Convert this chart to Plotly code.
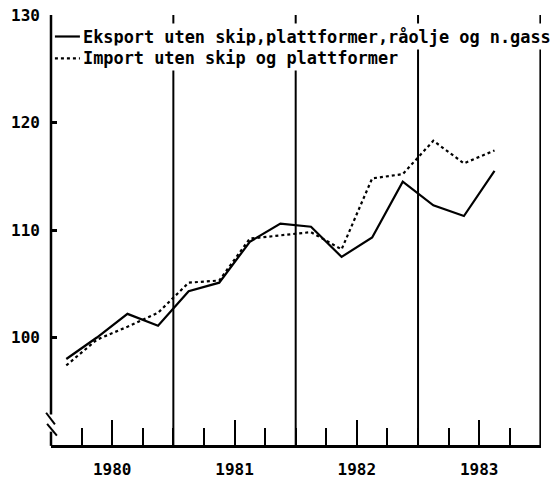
import plotly.graph_objects as go

# ---- data ----
years = [1980]*4 + [1981]*4 + [1982]*4 + [1983]*3
quarters = [1, 2, 3, 4]*3 + [1, 2, 3]
eksport = [98.0, 100.0, 102.2, 101.1, 104.3, 105.1, 108.9, 110.6,
           110.3, 107.5, 109.3, 114.5, 112.3, 111.3, 115.5]
import_ = [97.4, 99.8, 101.0, 102.3, 105.1, 105.3, 109.2, 109.5,
           109.8, 108.2, 114.8, 115.2, 118.3, 116.2, 117.4]
series_names = ["Eksport uten skip,plattformer,råolje og n.gass",
                "Import uten skip og plattformer"]
year_labels = ["1980", "1981", "1982", "1983"]
y_ticks = [100, 110, 120, 130]

x = [y + (q - 0.5) / 4 for y, q in zip(years, quarters)]

FONT = "DejaVu Sans Mono"
fig = go.Figure()
fig.add_trace(go.Scatter(x=x, y=eksport, mode="lines", name=series_names[0],
                         line=dict(color="black", width=2.2), showlegend=False))
fig.add_trace(go.Scatter(x=x, y=import_, mode="lines", name=series_names[1],
                         line=dict(color="black", width=2.2, dash="dot"), showlegend=False))

# year boundary lines
for yb in [1981, 1982, 1983, 1984]:
    fig.add_shape(type="line", xref="x", yref="y", x0=yb, x1=yb, y0=90, y1=130.2,
                  line=dict(color="black", width=2), layer="below")

# y axis line with break
fig.add_shape(type="line", xref="paper", yref="paper", x0=0, x1=0, y0=0.071, y1=1.0,
              line=dict(color="black", width=2.5))
fig.add_shape(type="line", xref="paper", yref="paper", x0=0, x1=0, y0=-0.002, y1=0.031,
              line=dict(color="black", width=2.5))
# break marks
fig.add_shape(type="line", xref="paper", yref="paper", x0=-0.010, x1=0.008, y0=0.075, y1=0.048,
              line=dict(color="black", width=2))
fig.add_shape(type="line", xref="paper", yref="paper", x0=-0.008, x1=0.012, y0=0.049, y1=0.022,
              line=dict(color="black", width=2))

# legend (annotations with white background)
leg_y = [0.95, 0.899]
dashes = ["solid", "dot"]
for name, yy, d in zip(series_names, leg_y, dashes):
    fig.add_shape(type="line", xref="paper", yref="paper", x0=0.008, x1=0.059, y0=yy, y1=yy,
                  line=dict(color="black", width=2.2, dash=d))
    fig.add_annotation(text=name, xref="paper", yref="paper", x=0.059, y=yy,
                       xanchor="left", yanchor="middle", showarrow=False,
                       bgcolor="white", borderpad=2,
                       font=dict(family=FONT, size=16.9, color="black", weight="bold"))

fig.update_layout(
    width=551, height=480,
    margin=dict(l=51, r=10, t=15, b=35, autoexpand=False),
    paper_bgcolor="white", plot_bgcolor="white",
    font=dict(family=FONT, size=16, color="black", weight="bold"),
    xaxis=dict(range=[1980, 1984.005], showgrid=False, zeroline=False, automargin=False,
               showline=True, linecolor="black", linewidth=2.5, ticklabeloverflow="allow",
               tickmode="array", tickvals=[1980.5, 1981.5, 1982.5, 1983.5],
               ticktext=year_labels, ticks="inside", ticklen=25, tickwidth=2,
               tickcolor="black", ticklabelstandoff=8,
               minor=dict(ticks="inside", ticklen=17, tickwidth=2, tickcolor="black",
                          tickmode="linear", tick0=1980, dtick=0.25, showgrid=False)),
    yaxis=dict(range=[90, 130], showgrid=False, zeroline=False, showline=False, automargin=False,
               tickmode="array", tickvals=y_ticks, ticks="inside", ticklen=6,
               ticklabeloverflow="allow",
               tickwidth=2.5, tickcolor="black", ticklabelstandoff=10),
)

# remove the default 8px page margin so the figure fills the window exactly
fig.write_html("out.html", config={"displayModeBar": False},
               post_script="document.body.style.margin='0';document.body.style.overflow='hidden';")
